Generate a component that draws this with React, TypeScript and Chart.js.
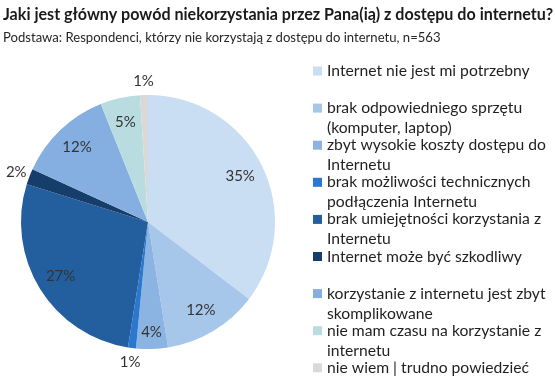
import React, { useEffect, useRef } from "react";
import { Chart, registerables } from "chart.js";

Chart.register(...registerables);

const TITLE = "Jaki jest główny powód niekorzystania przez Pana(ią) z dostępu do internetu?";
const SUBTITLE = "Podstawa: Respondenci, którzy nie korzystają z dostępu do internetu, n=563";

const categories = [
  "Internet nie jest mi potrzebny",
  "brak odpowiedniego sprzętu\n(komputer, laptop)",
  "zbyt wysokie koszty dostępu do\nInternetu",
  "brak możliwości technicznych\npodłączenia Internetu",
  "brak umiejętności korzystania z\nInternetu",
  "Internet może być szkodliwy",
  "korzystanie z internetu jest zbyt\nskomplikowane",
  "nie mam czasu na korzystanie z\ninternetu",
  "nie wiem | trudno powiedzieć",
];

const values = [35, 12, 4, 1, 27, 2, 12, 5, 1];

const colors = [
  "#c9ddf3",
  "#a7c7ea",
  "#8cb4e2",
  "#2a78d0",
  "#235f9f",
  "#173e6b",
  "#84afe0",
  "#b8dcdf",
  "#d9d9d9",
];

const FONT = "Lato, 'Noto Sans', sans-serif";

const overlayPlugin = {
  id: "overlay",
  afterDatasetsDraw(chart: any) {
    const ctx = chart.ctx;
    const meta = chart.getDatasetMeta(0);
    ctx.save();
    // percentage labels
    ctx.font = `15px ${FONT}`;
    ctx.fillStyle = "#333333";
    ctx.textAlign = "center";
    ctx.textBaseline = "middle";
    meta.data.forEach((arc: any, i: number) => {
      const v = values[i];
      const mid = (arc.startAngle + arc.endAngle) / 2;
      const R = arc.outerRadius;
      let r;
      if (v < 3) r = R + 14;
      else if (v < 5) r = R * 0.87;
      else r = R * 0.81;
      const x = arc.x + Math.cos(mid) * r;
      const y = arc.y + Math.sin(mid) * r;
      ctx.fillText(v + "%", x, y);
    });

    // title
    ctx.textAlign = "left";
    ctx.textBaseline = "middle";
    ctx.fillStyle = "#1a1a1a";
    ctx.font = `bold 16.1px ${FONT}`;
    ctx.fillText(TITLE, 3, 15);
    ctx.font = `13.1px ${FONT}`;
    ctx.fillStyle = "#262626";
    ctx.fillText(SUBTITLE, 3, 38);

    // legend
    ctx.font = `15.7px ${FONT}`;
    categories.forEach((label, i) => {
      const y0 = 71 + 37.1 * i;
      ctx.fillStyle = colors[i];
      ctx.fillRect(313, y0 - 4.5, 9, 9);
      ctx.fillStyle = "#1f1f1f";
      label.split("\n").forEach((line, j) => {
        ctx.fillText(line, 327, y0 + j * 20);
      });
    });
    ctx.restore();
  },
};

export default function App() {
  const ref = useRef<HTMLCanvasElement | null>(null);
  useEffect(() => {
    document.body.style.margin = "0";
    const chart = new Chart(ref.current as HTMLCanvasElement, {
      type: "pie",
      data: {
        labels: categories,
        datasets: [
          {
            data: values,
            backgroundColor: colors,
            borderWidth: 0,
          },
        ],
      },
      options: {
        animation: false,
        responsive: false,
        maintainAspectRatio: false,
        layout: { padding: { left: 21, right: 280, top: 95, bottom: 35 } },
        plugins: {
          legend: { display: false },
          title: { display: false },
          tooltip: { enabled: false },
        },
      },
      plugins: [overlayPlugin],
    });
    return () => chart.destroy();
  }, []);
  return (
    <div style={{ width: 555, height: 384, background: "#fff" }}>
      <canvas ref={ref} width={555} height={384} />
    </div>
  );
}
